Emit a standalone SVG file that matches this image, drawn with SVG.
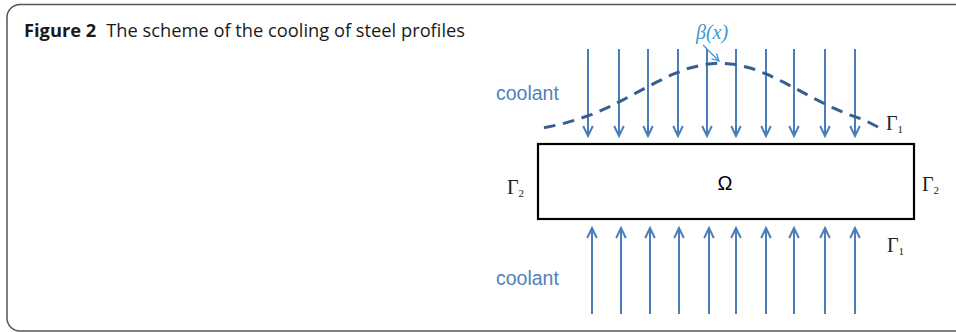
<svg xmlns="http://www.w3.org/2000/svg" width="956" height="332" viewBox="0 0 956 332">
<style>
.frame{fill:none;stroke:#555;stroke-width:1.5}
.title{font-family:"Open Sans","Noto Sans",sans-serif;font-size:18.3px;fill:#1a1a1a}
.flow{stroke:#4a7ebb;stroke-width:2;fill:none}
.cool{font-family:"Liberation Sans",Arial,sans-serif;font-size:19.5px;fill:#4f81bd}
.gam{font-family:"Liberation Serif","Times New Roman",serif;font-size:20px;fill:#222}
.sub{font-size:11px}
</style>
<defs>
<marker id="ah" markerUnits="userSpaceOnUse" markerWidth="14" markerHeight="14" viewBox="-12 -7 14 14" refX="0" refY="0" orient="auto">
<path d="M-10,-4.8 L0,0 L-10,4.8" fill="none" stroke="#4a7ebb" stroke-width="2"/>
</marker>
<marker id="ahb" markerUnits="userSpaceOnUse" markerWidth="12" markerHeight="12" viewBox="-10 -6 12 12" refX="0" refY="0" orient="auto">
<path d="M-7,-3.5 L0,0 L-7,3.5" fill="none" stroke="#3f97d4" stroke-width="1.3"/>
</marker>
</defs>
<path class="frame" d="M957,4.5 H20 A13,13 0 0 0 7,17.5 V318 A13,13 0 0 0 20,331 H957"/>
<text class="title" x="24" y="37"><tspan font-weight="bold">Figure 2</tspan><tspan dx="10">The scheme of the cooling of steel profiles</tspan></text>
<g id="connectors">
<g id="top-arrows" class="flow" marker-end="url(#ah)">
<line x1="588" y1="49" x2="588" y2="136"/>
<line x1="619" y1="49" x2="619" y2="136"/>
<line x1="648" y1="49" x2="648" y2="136"/>
<line x1="678" y1="49" x2="678" y2="136"/>
<line x1="707" y1="49" x2="707" y2="136"/>
<line x1="736" y1="49" x2="736" y2="136"/>
<line x1="766" y1="49" x2="766" y2="136"/>
<line x1="794" y1="49" x2="794" y2="136"/>
<line x1="825" y1="49" x2="825" y2="136"/>
<line x1="855" y1="49" x2="855" y2="136"/>
</g>
<g id="bottom-arrows" class="flow" marker-end="url(#ah)">
<line x1="592" y1="314" x2="592" y2="228"/>
<line x1="621" y1="314" x2="621" y2="228"/>
<line x1="650" y1="314" x2="650" y2="228"/>
<line x1="679" y1="314" x2="679" y2="228"/>
<line x1="709" y1="314" x2="709" y2="228"/>
<line x1="736" y1="314" x2="736" y2="228"/>
<line x1="766" y1="314" x2="766" y2="228"/>
<line x1="794" y1="314" x2="794" y2="228"/>
<line x1="825" y1="314" x2="825" y2="228"/>
<line x1="855" y1="314" x2="855" y2="228"/>
</g>
<line id="beta-pointer" x1="703" y1="45" x2="719" y2="61" stroke="#3f97d4" stroke-width="1.3" marker-end="url(#ahb)"/>
</g>
<g id="beta-curve">
<polyline fill="none" stroke="#355f8e" stroke-width="3" stroke-dasharray="12,8" pathLength="372" points="544,127.7 560,124.4 576,119.9 592,114.3 608,107.4 624,99.4 640,90.9 656,82.4 672,74.7 688,68.5 704,64.4 720,63 736,64.4 752,68.5 768,74.7 784,82.4 800,90.9 816,99.4 832,107.4 848,114.3 864,119.9 878,127"/>
<text x="696" y="39" font-family="'Liberation Serif','Times New Roman',serif" font-style="italic" font-size="20" fill="#3f97d4">β(x)</text>
</g>
<g id="omega">
<rect x="538" y="144" width="376" height="75" fill="#fff" stroke="#000" stroke-width="2.2"/>
<text x="725" y="190" text-anchor="middle" font-family="'Liberation Sans',Arial,sans-serif" font-size="20" fill="#000">Ω</text>
</g>
<g id="coolant-top"><text class="cool" x="496" y="100">coolant</text></g>
<g id="coolant-bottom"><text class="cool" x="496" y="285">coolant</text></g>
<g id="gamma1-top"><text class="gam" x="886" y="130">Γ<tspan class="sub" dy="3">1</tspan></text></g>
<g id="gamma1-bottom"><text class="gam" x="887" y="252">Γ<tspan class="sub" dy="3">1</tspan></text></g>
<g id="gamma2-left"><text class="gam" x="507" y="194">Γ<tspan class="sub" dy="3">2</tspan></text></g>
<g id="gamma2-right"><text class="gam" x="922" y="191">Γ<tspan class="sub" dy="3">2</tspan></text></g>
</svg>
